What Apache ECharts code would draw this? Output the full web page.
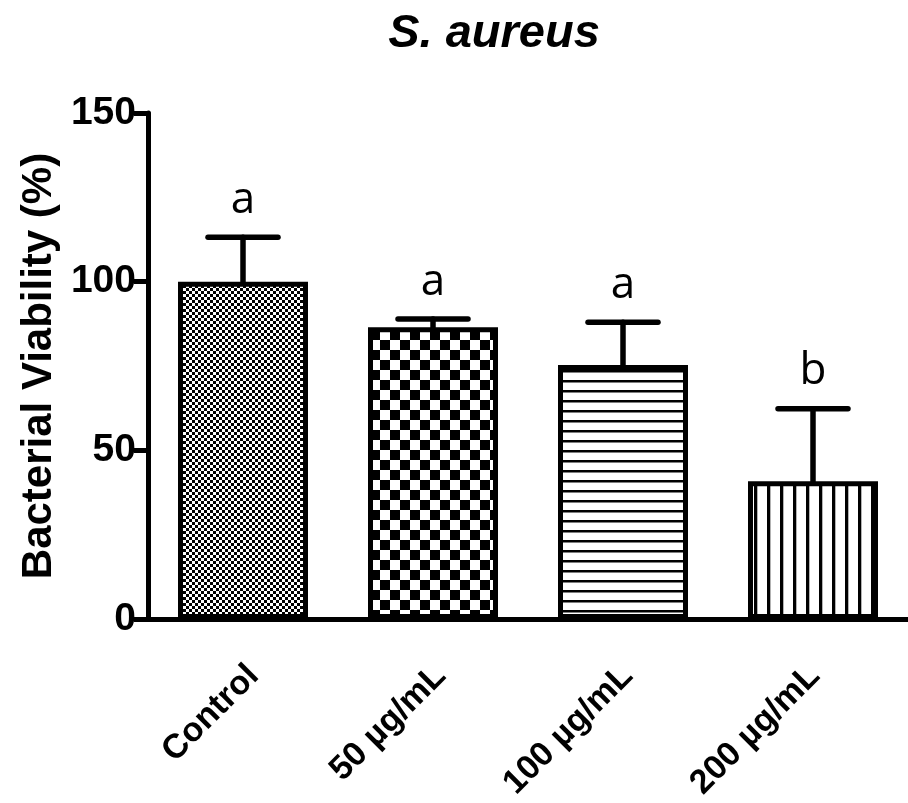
<!DOCTYPE html>
<html>
<head>
<meta charset="utf-8">
<script src="https://cdn.jsdelivr.net/npm/echarts@6/dist/echarts.min.js"></script>
<style>
  html, body { margin: 0; padding: 0; background: #fff; }
  #chart { width: 908px; height: 803px; }
</style>
</head>
<body>
<div id="chart"></div>
<script>
// Bacterial viability of S. aureus after treatment
const categories = ['Control', '50 µg/mL', '100 µg/mL', '200 µg/mL'];
const meanValues = [100, 86.5, 75.3, 40.8];
const upperError = [113.2, 88.9, 88.0, 62.3];
const groupLetters = ['a', 'a', 'a', 'b'];
const yTicks = [0, 50, 100, 150];

const FONT = '"Liberation Sans", Arial, sans-serif';

// Hatch fills for each bar, drawn on small tiles
function tile(w, h, draw) {
  const c = document.createElement('canvas');
  c.width = w; c.height = h;
  const ctx = c.getContext('2d');
  ctx.fillStyle = '#fff';
  ctx.fillRect(0, 0, w, h);
  ctx.fillStyle = '#000';
  draw(ctx);
  return { image: c, repeat: 'repeat' };
}
const fills = [
  tile(6, 6, ctx => { ctx.fillRect(0, 0, 3, 3); ctx.fillRect(3, 3, 3, 3); }),
  tile(20, 20, ctx => { ctx.fillRect(0, 0, 10, 10); ctx.fillRect(10, 10, 10, 10); }),
  tile(10, 10, ctx => { ctx.fillRect(0, 0, 10, 2.5); }),
  tile(13, 10, ctx => { ctx.fillRect(0, 0, 3.3, 10); })
];

const GRID = { left: 148, right: 0, top: 113, bottom: 184 };
// the category names sit a little to the right of their ticks
const LABEL_SHIFT = 12;

const chart = echarts.init(document.getElementById('chart'), null, { renderer: 'canvas' });

chart.setOption({
  animation: false,
  backgroundColor: '#fff',
  title: {
    text: 'S. aureus',
    left: 489, top: 6, textAlign: 'center',
    textStyle: { fontFamily: FONT, fontSize: 47, fontWeight: 'bold', fontStyle: 'italic', color: '#000' }
  },
  grid: [
    Object.assign({ containLabel: false }, GRID),
    { left: GRID.left + LABEL_SHIFT, right: GRID.right - LABEL_SHIFT, top: GRID.top, bottom: GRID.bottom, containLabel: false }
  ],
  xAxis: [
    {
      type: 'category',
      gridIndex: 0,
      data: categories,
      axisLine: { lineStyle: { color: '#000', width: 5 } },
      axisTick: { alignWithLabel: true, length: 16, lineStyle: { color: '#000', width: 5 } },
      axisLabel: { show: false }
    },
    {
      type: 'category',
      gridIndex: 1,
      data: categories,
      axisLine: { show: false },
      axisTick: { show: false },
      axisLabel: {
        rotate: 45, margin: 52, interval: 0,
        fontFamily: FONT, fontSize: 34, fontWeight: 'bold', color: '#000'
      }
    }
  ],
  yAxis: [
    {
      type: 'value',
      gridIndex: 0,
      min: 0, max: 150, interval: 50,
      name: 'Bacterial Viability (%)',
      nameLocation: 'middle', nameGap: 88, nameRotate: 90,
      nameTextStyle: { fontFamily: FONT, fontSize: 42, fontWeight: 'bold', color: '#000' },
      axisLine: { show: true, lineStyle: { color: '#000', width: 5 } },
      axisTick: { show: true, length: 14, lineStyle: { color: '#000', width: 5 } },
      splitLine: { show: false },
      axisLabel: {
        margin: 12,
        fontFamily: FONT, fontSize: 39, fontWeight: 'bold', color: '#000',
        formatter: v => yTicks.includes(v) ? String(v) : ''
      }
    },
    {
      type: 'value', gridIndex: 1, min: 0, max: 150, show: false
    }
  ],
  series: [
    {
      type: 'bar',
      barWidth: 130,
      data: meanValues.map((v, i) => ({
        value: v,
        itemStyle: { color: fills[i], borderColor: '#000', borderWidth: 5 }
      })),
      z: 3
    },
    {
      type: 'custom',
      z: 2,
      data: meanValues.map((v, i) => [i, v, upperError[i]]),
      renderItem: (params, api) => {
        const i = api.value(0);
        const base = api.coord([i, api.value(1)]);
        const top = api.coord([i, api.value(2)]);
        const half = 35;
        const line = { stroke: '#000', lineWidth: 5.5, lineCap: 'round' };
        return {
          type: 'group',
          children: [
            { type: 'line', shape: { x1: base[0], y1: base[1], x2: top[0], y2: top[1] }, style: line },
            { type: 'line', shape: { x1: top[0] - half, y1: top[1], x2: top[0] + half, y2: top[1] }, style: line },
            {
              type: 'text',
              style: {
                x: top[0], y: top[1] - 37,
                text: groupLetters[params.dataIndex],
                align: 'center', verticalAlign: 'middle',
                font: '44px "Open Sans", sans-serif', fill: '#000'
              }
            }
          ]
        };
      }
    }
  ]
});
</script>
</body>
</html>
